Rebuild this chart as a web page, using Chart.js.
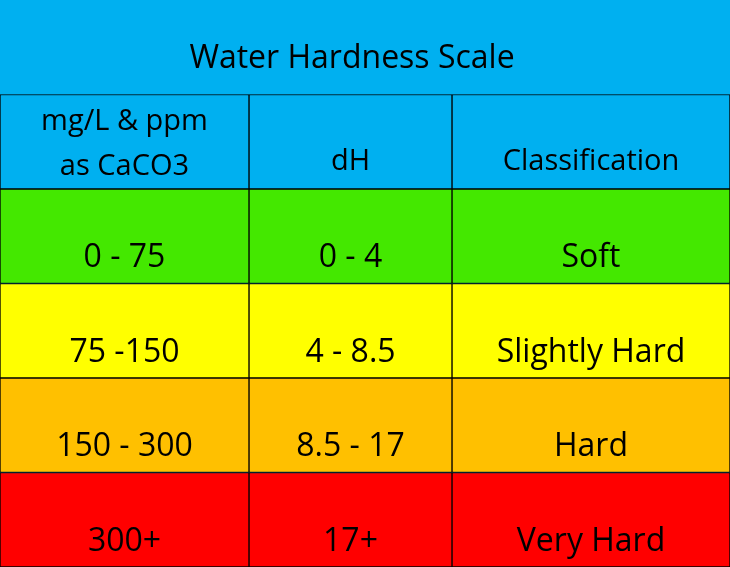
<!DOCTYPE html>
<html><head><meta charset="utf-8">
<script src="https://cdn.jsdelivr.net/npm/chart.js@4"></script>
<style>html,body{margin:0;padding:0;background:#00B0F0}#w{width:730px;height:567px}</style>
</head><body><div id="w"><canvas id="c"></canvas></div>
<script>
const rows = ['title','header','soft','slight','hard','very'];
const col1Width = [730, 249, 249, 249, 249, 249];
const col2Width = [0, 203, 203, 203, 203, 203];
const col3Width = [0, 278, 278, 278, 278, 278];
const rowColors = ['#00B0F0','#00B0F0','#44E800','#FFFF00','#FFC000','#FF0000'];
const col1Text = [['Water Hardness Scale'],['mg/L & ppm','as CaCO3'],['0 - 75'],['75 -150'],['150 - 300'],['300+']];
const col2Text = [[''],['dH'],['0 - 4'],['4 - 8.5'],['8.5 - 17'],['17+']];
const col3Text = [[''],['Classification'],['Soft'],['Slightly Hard'],['Hard'],['Very Hard']];
const borders = rowColors.map((c,i)=> i===0 ? 'rgba(0,0,0,0)' : '#000');
const mk = (d)=>({data:d, backgroundColor:rowColors, borderColor:borders, borderWidth:1, borderSkipped:false, barPercentage:1, categoryPercentage:1});
const texts=[col1Text,col2Text,col3Text];
const textPlugin={id:'t',afterDatasetsDraw(ch){
  const ctx=ch.ctx; ctx.save(); ctx.fillStyle='#000'; ctx.textAlign='center'; ctx.textBaseline='middle';
  for(let j=0;j<3;j++){const meta=ch.getDatasetMeta(j);
    meta.data.forEach((el,i)=>{const lines=texts[j][i]; if(!lines[0])return;
      const cx=(el.base+el.x)/2; const h=el.height;
      if(i===0){ctx.font='32px "Open Sans", sans-serif'; ctx.fillText(lines[0],352,el.y+12);}
      else if(i===1){ctx.font='29px "Open Sans", sans-serif';
        if(lines.length===2){ctx.fillText(lines[0],cx,el.y-20);ctx.fillText(lines[1],cx,el.y+25);}
        else ctx.fillText(lines[0],cx,el.y+20);}
      else {ctx.font='32px "Open Sans", sans-serif'; ctx.fillText(lines[0],cx,el.y+22);}
    });}
  ctx.restore();}};
new Chart(document.getElementById('c'),{type:'bar',
 data:{labels:rows,datasets:[mk(col1Width),mk(col2Width),mk(col3Width)]},
 options:{indexAxis:'y',responsive:true,maintainAspectRatio:false,animation:false,
  layout:{padding:0},
  plugins:{legend:{display:false},tooltip:{enabled:false}},
  scales:{x:{stacked:true,display:false,min:0,max:730},y:{stacked:true,display:false}}},
 plugins:[textPlugin]});
</script></body></html>
